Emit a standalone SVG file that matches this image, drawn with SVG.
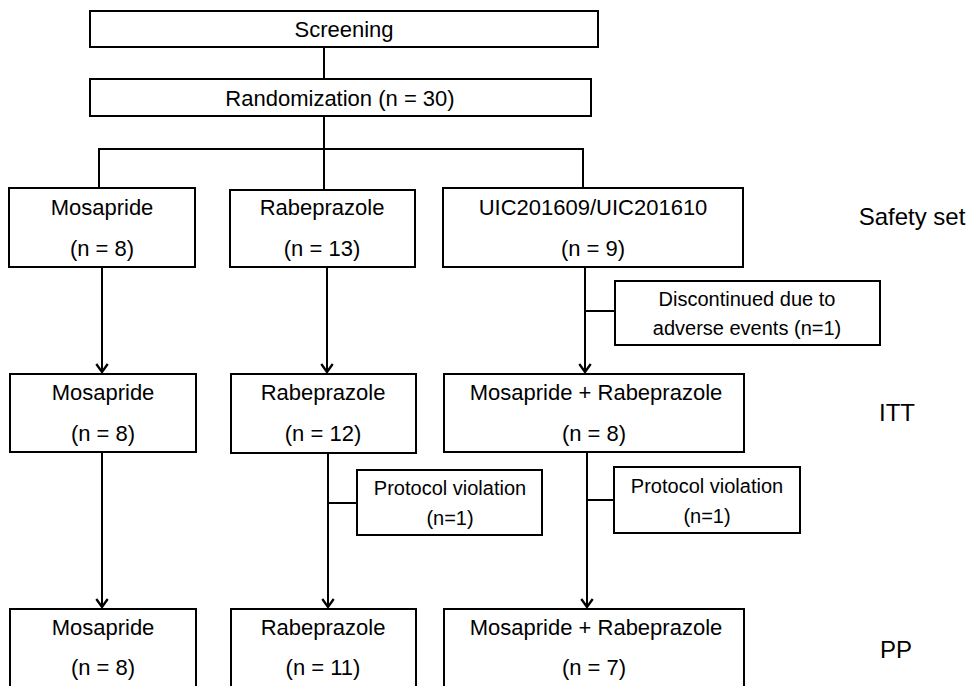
<svg xmlns="http://www.w3.org/2000/svg" width="972" height="686" viewBox="0 0 972 686">
<defs>
<style>
.box{fill:#fff;stroke:#000;stroke-width:2}
.t{font-family:"Liberation Sans",Arial,sans-serif;font-size:22px;fill:#000;text-anchor:middle}
.s{font-family:"Liberation Sans",Arial,sans-serif;font-size:20px;fill:#000;text-anchor:middle}
.lbl{font-family:"Liberation Sans",Arial,sans-serif;font-size:24px;fill:#000;text-anchor:middle}
.c{fill:none;stroke:#000;stroke-width:2}
</style>
<marker id="arr" markerUnits="userSpaceOnUse" markerWidth="16" markerHeight="16" refX="0" refY="0" viewBox="-9 -7 11 14" orient="auto" overflow="visible">
<path d="M-7,-5 L0,0 L-7,5" fill="none" stroke="#000" stroke-width="2"/>
</marker>
</defs>
<rect width="972" height="686" fill="#fff"/>
<g id="connectors">
<line class="c" x1="324" y1="47" x2="324" y2="79"/>
<line class="c" x1="324" y1="116" x2="324" y2="190"/>
<line class="c" x1="98" y1="149" x2="584" y2="149"/>
<line class="c" x1="99" y1="149" x2="99" y2="188"/>
<line class="c" x1="583" y1="149" x2="583" y2="188"/>
<line class="c" x1="102" y1="267" x2="102" y2="372" marker-end="url(#arr)"/>
<line class="c" x1="327" y1="267" x2="327" y2="372" marker-end="url(#arr)"/>
<line class="c" x1="585" y1="267" x2="585" y2="372" marker-end="url(#arr)"/>
<line class="c" x1="585" y1="311" x2="615" y2="311"/>
<line class="c" x1="102" y1="452" x2="102" y2="607" marker-end="url(#arr)"/>
<line class="c" x1="328" y1="453" x2="328" y2="607" marker-end="url(#arr)"/>
<line class="c" x1="587" y1="452" x2="587" y2="607" marker-end="url(#arr)"/>
<line class="c" x1="328" y1="503" x2="357" y2="503"/>
<line class="c" x1="587" y1="500" x2="614" y2="500"/>
</g>
<g id="screening">
<rect class="box" x="90" y="11" width="508" height="36"/>
<text class="t" x="344" y="37">Screening</text>
</g>
<g id="randomization">
<rect class="box" x="90" y="79" width="501" height="37"/>
<text class="t" x="340" y="106">Randomization (n = 30)</text>
</g>
<g id="safety-mosapride">
<rect class="box" x="9" y="188" width="186" height="79"/>
<text class="t" x="102" y="215">Mosapride</text>
<text class="t" x="102" y="256">(n = 8)</text>
</g>
<g id="safety-rabeprazole">
<rect class="box" x="230" y="190" width="185" height="77"/>
<text class="t" x="322" y="215">Rabeprazole</text>
<text class="t" x="322" y="256">(n = 13)</text>
</g>
<g id="safety-uic">
<rect class="box" x="443" y="188" width="300" height="79"/>
<text class="t" x="593" y="215">UIC201609/UIC201610</text>
<text class="t" x="593" y="256">(n = 9)</text>
</g>
<g id="discontinued">
<rect class="box" x="615" y="281" width="265" height="64"/>
<text class="s" x="747" y="306">Discontinued due to</text>
<text class="s" x="747" y="335">adverse events (n=1)</text>
</g>
<g id="itt-mosapride">
<rect class="box" x="10" y="374" width="186" height="78"/>
<text class="t" x="103" y="400">Mosapride</text>
<text class="t" x="103" y="441">(n = 8)</text>
</g>
<g id="itt-rabeprazole">
<rect class="box" x="231" y="374" width="185" height="79"/>
<text class="t" x="323" y="400">Rabeprazole</text>
<text class="t" x="323" y="441">(n = 12)</text>
</g>
<g id="itt-combo">
<rect class="box" x="444" y="374" width="300" height="78"/>
<text class="t" x="596" y="400">Mosapride + Rabeprazole</text>
<text class="t" x="594" y="441">(n = 8)</text>
</g>
<g id="pv-rabeprazole">
<rect class="box" x="357" y="470" width="185" height="65"/>
<text class="s" x="450" y="495">Protocol violation</text>
<text class="s" x="450" y="525">(n=1)</text>
</g>
<g id="pv-combo">
<rect class="box" x="614" y="467" width="186" height="66"/>
<text class="s" x="707" y="493">Protocol violation</text>
<text class="s" x="707" y="523">(n=1)</text>
</g>
<g id="pp-mosapride">
<rect class="box" x="10" y="609" width="186" height="82"/>
<text class="t" x="103" y="635">Mosapride</text>
<text class="t" x="103" y="675">(n = 8)</text>
</g>
<g id="pp-rabeprazole">
<rect class="box" x="231" y="609" width="185" height="82"/>
<text class="t" x="323" y="635">Rabeprazole</text>
<text class="t" x="323" y="675">(n = 11)</text>
</g>
<g id="pp-combo">
<rect class="box" x="444" y="609" width="300" height="82"/>
<text class="t" x="596" y="635">Mosapride + Rabeprazole</text>
<text class="t" x="594" y="675">(n = 7)</text>
</g>
<g id="labels">
<text class="lbl" x="912" y="225">Safety set</text>
<text class="lbl" x="897" y="421">ITT</text>
<text class="lbl" x="896" y="658">PP</text>
</g>
</svg>
